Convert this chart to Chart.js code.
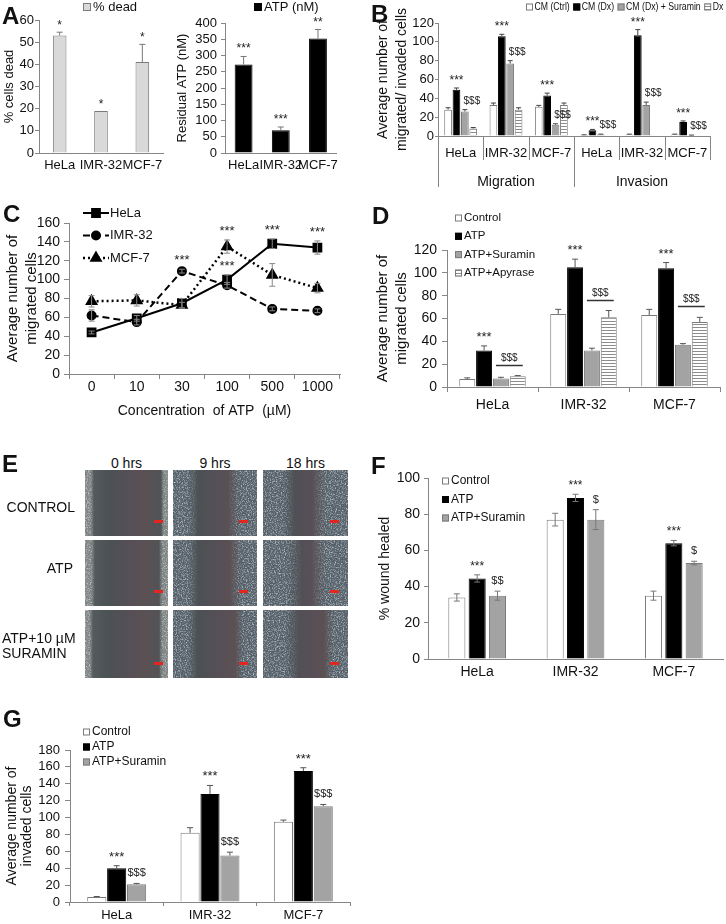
<!DOCTYPE html>
<html>
<head>
<meta charset="utf-8">
<script src="https://cdn.jsdelivr.net/npm/chart.js@4.4.0/dist/chart.umd.min.js"></script>
<style>
  html, body { margin: 0; padding: 0; background: #fff; }
  #fig { position: relative; width: 726px; height: 924px; overflow: hidden; font-family: "Liberation Sans", Arial, sans-serif; color: #111; }
  #fig canvas { position: absolute; }
  .letter { position: absolute; font-weight: bold; font-size: 24px; line-height: 1; }
  .elabel { position: absolute; font-size: 14px; line-height: 16px; white-space: nowrap; }
  .micro { position: absolute; overflow: hidden;
    background: linear-gradient(90deg, #5a5f60 0%, #4b5154 30%, #574f57 55%, #5b5154 72%, #4d5457 100%); }
  .cells { position: absolute; top: 0; bottom: 0; background-color: #56606a;
    background-image: url("data:image/svg+xml;utf8,<svg xmlns='http://www.w3.org/2000/svg' width='120' height='80'><filter id='n'><feTurbulence type='fractalNoise' baseFrequency='0.8' numOctaves='2' seed='4'/><feColorMatrix values='0 0 0 0 0.72 0 0 0 0 0.8 0 0 0 0 0.8 1.9 0 0 0 -0.85'/></filter><rect width='120' height='80' filter='url(%23n)'/></svg>"); }
  .cells.l { left: 0; -webkit-mask-image: linear-gradient(90deg, #000 60%, transparent); }
  .cells.r { right: 0; -webkit-mask-image: linear-gradient(270deg, #000 60%, transparent); }
  .cells.bright { background-color: #7f8483; }
  .arrow { position: absolute; width: 9px; height: 3px; background: #e3261f; bottom: 13px; }
</style>
</head>
<body>
<div id="fig">
  <canvas id="chartA1" width="172" height="175" style="left:0;top:0"></canvas>
  <canvas id="chartA2" width="172" height="175" style="left:172px;top:0"></canvas>
  <canvas id="chartB" width="356" height="195" style="left:370px;top:0"></canvas>
  <canvas id="chartC" width="360" height="235" style="left:0;top:185px"></canvas>
  <canvas id="chartD" width="356" height="225" style="left:370px;top:195px"></canvas>
  <canvas id="chartF" width="356" height="225" style="left:370px;top:455px"></canvas>
  <canvas id="chartG" width="360" height="234" style="left:0;top:690px"></canvas>

  <div class="letter" style="left:2px;top:4px">A</div>
  <div class="letter" style="left:371px;top:2px">B</div>
  <div class="letter" style="left:3px;top:202px">C</div>
  <div class="letter" style="left:372px;top:204px">D</div>
  <div class="letter" style="left:2px;top:452px">E</div>
  <div class="letter" style="left:371px;top:454px">F</div>
  <div class="letter" style="left:3px;top:707px">G</div>

  <div id="panelE"></div>
</div>

<script>
// ---- data ----
const cells = ['HeLa', 'IMR-32', 'MCF-7'];

// A: cell death and residual ATP
const deadPct = [53, 19, 41];
const deadErr = [1.5, 0, 8];
const deadMarks = ['*', '*', '*'];
const atpNM = [272, 70, 352];
const atpErr = [25, 10, 28];
const atpMarks = ['***', '***', '**'];

// B: migration / invasion with conditioned media
const bLabels = ['HeLa', 'IMR-32', 'MCF-7', 'HeLa', 'IMR-32', 'MCF-7'];
const bGroups = ['Migration', 'Invasion'];
const cmCtrl = [28, 33, 31, 1, 1.5, 1.5];
const cmCtrlErr = [2, 2, 1.5, 0.3, 0.5, 0.5];
const cmDx = [49, 106, 43, 6, 107, 15];
const cmDxErr = [2, 2, 2.5, 1, 6, 1];
const cmDxMarks = ['***', '***', '***', '***', '***', '***'];
const cmDxSur = [26, 77, 12, 1.5, 33, 0.7];
const cmDxSurErr = [2, 3, 1, 0.5, 3, 0.3];
const cmDxSurMarks = ['$$$', '$$$', '$$$', '$$$', '$$$', '$$$'];
const dxOnly = [8, 28, 33, 0, 0, 0];
const dxOnlyErr = [1, 2, 2, 0, 0, 0];

// C: dose response
const atpConc = ['0', '10', '30', '100', '500', '1000'];
const helaMig = [44, 59, 75, 100, 138, 134];
const helaMigErr = [1.5, 3, 5, 5, 5, 7];
const helaMigMarks = ['', '', '', '***', '***', '***'];
const imrMig = [62, 55, 109, 94, 69, 67];
const imrMigErr = [6, 3, 2, 3, 2, 2];
const imrMigMarks = ['', '', '***', '', '', ''];
const mcfMig = [77, 78, 73, 135, 105, 91];
const mcfMigErr = [6, 6, 3, 7, 12, 5];
const mcfMigMarks = ['', '', '', '***', '', ''];

// D: migration with ATP / suramin / apyrase
const dControl = [7, 64, 63];
const dControlErr = [1, 4, 5];
const dATP = [32, 105, 104];
const dATPErr = [4, 7, 5];
const dATPMarks = ['***', '***', '***'];
const dSur = [7.5, 32, 37];
const dSurErr = [1, 2, 1];
const dApy = [9.5, 61, 57];
const dApyErr = [0.5, 6, 4];
const dBracketMarks = ['$$$', '$$$', '$$$'];

// F: wound healing
const fControl = [34, 77, 35];
const fControlErr = [2, 3.5, 2.5];
const fATP = [44.5, 89, 64];
const fATPErr = [2, 2, 1.5];
const fATPMarks = ['***', '***', '***'];
const fSur = [35, 77, 53];
const fSurErr = [2.5, 5.5, 1];
const fSurMarks = ['$$', '$', '$'];

// G: invasion
const gControl = [6, 82, 95];
const gControlErr = [0.5, 6, 2];
const gATP = [40, 128, 155];
const gATPErr = [3, 10, 4];
const gATPMarks = ['***', '***', '***'];
const gSur = [21, 55, 113.5];
const gSurErr = [1, 4, 2];
const gSurMarks = ['$$$', '$$$', '$$$'];

// ---- styling ----
const FONT = '"Liberation Sans", Arial, sans-serif';
const NARROW = '"Liberation Sans Narrow", "Liberation Sans", Arial, sans-serif';
const AXIS = '#868686';
const TEXT = '#111';
const LIGHT = '#d9d9d9';
const GREY = '#a3a3a3';
const GREY_EDGE = '#7a7a7a';

Chart.defaults.font.family = FONT;
Chart.defaults.color = TEXT;
Chart.defaults.animation = false;
Chart.defaults.plugins.legend.display = false;
Chart.defaults.plugins.tooltip.enabled = false;

function stripes() {
    const c = document.createElement('canvas');
    c.width = 4; c.height = 3;
    const g = c.getContext('2d');
    g.fillStyle = '#fff';
    g.fillRect(0, 0, 4, 3);
    g.fillStyle = '#8c8c8c';
    g.fillRect(0, 0, 4, 1);
    return g.createPattern(c, 'repeat');
}
const STRIPES = stripes();

// error bars: upward only for bars, both ways when opts.both
Chart.register({
    id: 'errorBars',
    afterDatasetsDraw(chart, args, opts) {
        const ctx = chart.ctx;
        const y = chart.scales.y;
        chart.data.datasets.forEach((ds, di) => {
            if (!ds.errors) return;
            const meta = chart.getDatasetMeta(di);
            ctx.save();
            ctx.strokeStyle = opts.color || '#555';
            ctx.lineWidth = 1;
            meta.data.forEach((el, i) => {
                const err = ds.errors[i];
                if (!err) return;
                const v = ds.data[i];
                const cap = opts.cap || 3;
                const top = y.getPixelForValue(v + err);
                const bot = opts.both ? y.getPixelForValue(v - err) : y.getPixelForValue(v);
                ctx.beginPath();
                ctx.moveTo(el.x, top); ctx.lineTo(el.x, bot);
                ctx.moveTo(el.x - cap, top); ctx.lineTo(el.x + cap, top);
                if (opts.both) { ctx.moveTo(el.x - cap, bot); ctx.lineTo(el.x + cap, bot); }
                ctx.stroke();
            });
            ctx.restore();
        });
    }
});

// significance marks above error bars
Chart.register({
    id: 'marks',
    afterDatasetsDraw(chart, args, opts) {
        const ctx = chart.ctx;
        const y = chart.scales.y;
        ctx.save();
        ctx.fillStyle = '#222';
        ctx.textAlign = 'center';
        ctx.textBaseline = 'alphabetic';
        chart.data.datasets.forEach((ds, di) => {
            if (!ds.marks) return;
            const meta = chart.getDatasetMeta(di);
            meta.data.forEach((el, i) => {
                const m = ds.marks[i];
                if (!m) return;
                const top = y.getPixelForValue(ds.data[i] + (ds.errors ? ds.errors[i] : 0));
                if (m.includes('$')) {
                    ctx.font = `${opts.dollarSize || 10}px ${NARROW}`;
                    ctx.fillText(m, el.x + (opts.dollarDx || 0), top - (opts.dollarGap || 6));
                } else {
                    ctx.font = `${opts.starSize || 12}px ${FONT}`;
                    ctx.fillText(m, el.x, top - (opts.starGap || 4));
                }
            });
        });
        ctx.restore();
    }
});

// bracket line over two bars with a label (panel D)
Chart.register({
    id: 'brackets',
    afterDatasetsDraw(chart, args, opts) {
        if (opts.from === undefined) return;
        const ctx = chart.ctx;
        const y = chart.scales.y;
        const dsA = chart.data.datasets[opts.from];
        const dsB = chart.data.datasets[opts.to];
        const mA = chart.getDatasetMeta(opts.from);
        const mB = chart.getDatasetMeta(opts.to);
        ctx.save();
        ctx.strokeStyle = '#333';
        ctx.lineWidth = 1.5;
        ctx.fillStyle = '#222';
        ctx.textAlign = 'center';
        ctx.font = `${opts.size || 10}px ${NARROW}`;
        mA.data.forEach((elA, i) => {
            const elB = mB.data[i];
            const topVal = Math.max(dsA.data[i] + dsA.errors[i], dsB.data[i] + dsB.errors[i]);
            const yy = Math.round(y.getPixelForValue(topVal) - opts.gap) + 0.5;
            const x0 = elA.x - elA.width / 2 + 3;
            const x1 = elB.x + elB.width / 2 - 3;
            ctx.beginPath();
            ctx.moveTo(x0, yy); ctx.lineTo(x1, yy);
            ctx.stroke();
            ctx.fillText(opts.labels[i], (x0 + x1) / 2, yy - 5);
        });
        ctx.restore();
    }
});

// category separators hanging below the axis (panel B)
Chart.register({
    id: 'separators',
    afterDraw(chart, args, opts) {
        if (!opts.short) return;
        const ctx = chart.ctx;
        const x = chart.scales.x;
        const area = chart.chartArea;
        const n = x.ticks.length;
        ctx.save();
        ctx.strokeStyle = AXIS;
        ctx.lineWidth = 1;
        for (let i = 0; i <= n; i++) {
            let px;
            if (i === 0) px = area.left;
            else if (i === n) px = area.right;
            else px = (x.getPixelForTick(i - 1) + x.getPixelForTick(i)) / 2;
            px = Math.round(px) + 0.5;
            const len = opts.longAt.includes(i) ? opts.long : opts.short;
            ctx.beginPath();
            ctx.moveTo(px, area.bottom);
            ctx.lineTo(px, area.bottom + len);
            ctx.stroke();
        }
        ctx.restore();
    }
});

// small legends drawn from the datasets
Chart.register({
    id: 'legendBox',
    afterDraw(chart, args, opts) {
        if (opts.x === undefined) return;
        const ctx = chart.ctx;
        ctx.save();
        ctx.font = `${opts.size || 12}px ${FONT}`;
        ctx.textBaseline = 'middle';
        ctx.textAlign = 'left';
        let x = opts.x, y = opts.y;
        const b = opts.box || 8;
        const tg = opts.textGap === undefined ? 2 : opts.textGap;
        const squeeze = opts.squeeze || 1;
        chart.data.datasets.forEach(ds => {
            let textX;
            if (opts.line) {
                ctx.strokeStyle = ds.borderColor;
                ctx.lineWidth = ds.borderWidth;
                ctx.setLineDash(ds.borderDash || []);
                ctx.beginPath();
                ctx.moveTo(x, y); ctx.lineTo(x + opts.lineLen, y);
                ctx.stroke();
                ctx.setLineDash([]);
                ctx.fillStyle = ds.pointBackgroundColor;
                ctx.strokeStyle = ds.borderColor;
                Chart.helpers.drawPoint(ctx, { pointStyle: ds.pointStyle, radius: ds.pointRadius, borderWidth: 1, rotation: 0 }, x + opts.lineLen / 2, y);
                textX = x + opts.lineLen + 1;
            } else {
                ctx.fillStyle = ds.backgroundColor;
                ctx.fillRect(x, y - b / 2, b, b);
                ctx.strokeStyle = ds.borderColor;
                ctx.lineWidth = 1;
                ctx.strokeRect(x + 0.5, y - b / 2 + 0.5, b - 1, b - 1);
                textX = x + b + tg;
            }
            const w = ctx.measureText(ds.label).width * squeeze;
            ctx.fillStyle = TEXT;
            ctx.fillText(ds.label, textX, y, w);
            if (opts.dir === 'row') x = textX + w + opts.gap;
            else y += opts.step;
        });
        ctx.restore();
    }
});

// ---- axis helpers ----
function valueAxis(o) {
    return {
        min: 0,
        max: o.max,
        ticks: { stepSize: o.step, font: { size: o.font || 13 }, padding: o.tickPad, color: TEXT, autoSkip: false },
        grid: { drawOnChartArea: false, drawTicks: true, tickLength: o.tickLen, color: AXIS },
        border: { color: AXIS },
        title: {
            display: true, text: o.title, color: TEXT,
            font: { size: o.titleSize || 13, lineHeight: o.titleLH || 1.2 },
            padding: { top: o.titlePad, bottom: 0 }
        },
        afterFit: s => { s.width = o.width; }
    };
}

function categoryAxis(o) {
    return {
        offset: true,
        ticks: { font: { size: o.font || 13 }, padding: o.tickPad, color: TEXT, maxRotation: 0, autoSkip: false },
        grid: { display: !!o.tickLen, offset: true, drawOnChartArea: false, drawTicks: !!o.tickLen, tickLength: o.tickLen || 1, color: AXIS },
        border: { color: AXIS },
        title: o.title ? { display: true, text: o.title, color: TEXT, font: { size: o.titleSize || 14 }, padding: { top: 0, bottom: 0 } } : { display: false },
        afterFit: s => { s.height = o.height; }
    };
}

function bar(label, data, errors, fill, edge, marks) {
    return { label, data, errors, marks, backgroundColor: fill, borderColor: edge, borderWidth: 1 };
}

// ---- A: % dead ----
new Chart(document.getElementById('chartA1'), {
    type: 'bar',
    data: { labels: cells, datasets: [bar('% dead', deadPct, deadErr, LIGHT, GREY_EDGE, deadMarks)] },
    options: {
        responsive: false,
        layout: { padding: { left: 0, top: 20, right: 9, bottom: 0 } },
        datasets: { bar: { categoryPercentage: 0.33, barPercentage: 1 } },
        scales: {
            x: categoryAxis({ height: 22, tickPad: 5 }),
            y: valueAxis({ max: 60, step: 10, width: 39, tickLen: 4, tickPad: 1, title: '% cells dead', titlePad: 1.5 })
        },
        plugins: {
            errorBars: { cap: 3, color: '#777' },
            marks: { starSize: 12, starGap: 3 },
            legendBox: { x: 83, y: 7, dir: 'row', gap: 6, size: 13, box: 8 }
        }
    }
});

// ---- A: residual ATP ----
new Chart(document.getElementById('chartA2'), {
    type: 'bar',
    data: { labels: cells, datasets: [bar('ATP (nM)', atpNM, atpErr, '#000', '#000', atpMarks)] },
    options: {
        responsive: false,
        layout: { padding: { left: 0, top: 23, right: 7, bottom: 0 } },
        datasets: { bar: { categoryPercentage: 0.48, barPercentage: 1 } },
        scales: {
            x: categoryAxis({ height: 22, tickPad: 5 }),
            y: valueAxis({ max: 400, step: 50, width: 53, tickLen: 4, tickPad: 4, title: 'Residual ATP (nM)', titlePad: 3 })
        },
        plugins: {
            errorBars: { cap: 3, color: '#777' },
            marks: { starSize: 12, starGap: 4 },
            legendBox: { x: 82, y: 7, dir: 'row', gap: 6, size: 13, box: 8 }
        }
    }
});

// ---- B: conditioned media ----
new Chart(document.getElementById('chartB'), {
    type: 'bar',
    data: {
        labels: bLabels,
        datasets: [
            bar('CM (Ctrl)', cmCtrl, cmCtrlErr, '#fff', GREY_EDGE),
            bar('CM (Dx)', cmDx, cmDxErr, '#000', '#000', cmDxMarks),
            bar('CM (Dx) + Suramin', cmDxSur, cmDxSurErr, GREY, GREY_EDGE, cmDxSurMarks),
            bar('Dx', dxOnly, dxOnlyErr, STRIPES, GREY_EDGE)
        ]
    },
    options: {
        responsive: false,
        layout: { padding: { left: 0, top: 23, right: 16, bottom: 0 } },
        datasets: { bar: { categoryPercentage: 0.74, barPercentage: 0.92 } },
        scales: {
            x: Object.assign(categoryAxis({ height: 24, tickPad: 10 }), { weight: 0 }),
            x2: {
                type: 'category', position: 'bottom', weight: 1, labels: bGroups, offset: true,
                ticks: { font: { size: 14 }, padding: 6, color: TEXT, maxRotation: 0 },
                grid: { display: false }, border: { display: false },
                afterFit: s => { s.height = 35; }
            },
            y: valueAxis({ max: 120, step: 20, width: 68, tickLen: 3, tickPad: 1, title: ['Average number of', 'migrated/ invaded cells'], titleSize: 14, titleLH: '19px', titlePad: 3.5 })
        },
        plugins: {
            errorBars: { cap: 2.5, color: '#444' },
            marks: { starSize: 12, starGap: 4, dollarSize: 10, dollarGap: 6, dollarDx: 7 },
            separators: { short: 24, long: 51, longAt: [0, 3] },
            legendBox: { x: 156, y: 7, dir: 'row', gap: 3.5, textGap: 1.5, size: 11, box: 7, squeeze: 0.79 }
        }
    }
});

// ---- C: dose response ----
new Chart(document.getElementById('chartC'), {
    type: 'line',
    data: {
        labels: atpConc,
        datasets: [
            { label: 'HeLa', data: helaMig, errors: helaMigErr, marks: helaMigMarks, borderColor: '#000', borderWidth: 2,
              pointStyle: 'rect', pointRadius: 5.5, pointBackgroundColor: '#000', pointBorderColor: '#000' },
            { label: 'IMR-32', data: imrMig, errors: imrMigErr, marks: imrMigMarks, borderColor: '#000', borderWidth: 2, borderDash: [7, 4],
              pointStyle: 'circle', pointRadius: 4, pointBackgroundColor: '#000', pointBorderColor: '#000' },
            { label: 'MCF-7', data: mcfMig, errors: mcfMigErr, marks: mcfMigMarks, borderColor: '#000', borderWidth: 2.5, borderDash: [2, 3],
              pointStyle: 'triangle', pointRadius: 5, pointBackgroundColor: '#000', pointBorderColor: '#000' }
        ]
    },
    options: {
        responsive: false,
        layout: { padding: { left: 0, top: 38, right: 20, bottom: 0 } },
        scales: {
            x: categoryAxis({ height: 46, tickLen: 5, tickPad: 0, font: 14, title: 'Concentration  of ATP  (\u00b5M)', titleSize: 14 }),
            y: valueAxis({ max: 160, step: 20, width: 69, tickLen: 5, tickPad: 4, font: 14, title: ['Average number of', 'migrated cells'], titleSize: 15, titleLH: '19px', titlePad: 3.5 })
        },
        plugins: {
            errorBars: { both: true, cap: 3, color: '#888' },
            marks: { starSize: 13, starGap: 5 },
            legendBox: { x: 83, y: 28, dir: 'col', step: 22.5, size: 13, line: true, lineLen: 26 }
        }
    }
});

// ---- D: ATP / suramin / apyrase ----
new Chart(document.getElementById('chartD'), {
    type: 'bar',
    data: {
        labels: cells,
        datasets: [
            bar('Control', dControl, dControlErr, '#fff', GREY_EDGE),
            bar('ATP', dATP, dATPErr, '#000', '#000', dATPMarks),
            bar('ATP+Suramin', dSur, dSurErr, GREY, GREY_EDGE),
            bar('ATP+Apyrase', dApy, dApyErr, STRIPES, GREY_EDGE)
        ]
    },
    options: {
        responsive: false,
        layout: { padding: { left: 0, top: 55, right: 6, bottom: 0 } },
        datasets: { bar: { categoryPercentage: 0.74, barPercentage: 0.95 } },
        scales: {
            x: categoryAxis({ height: 33, tickLen: 5, tickPad: 5, font: 14 }),
            y: valueAxis({ max: 120, step: 20, width: 77, tickLen: 5, tickPad: 5, font: 14, title: ['Average number of', 'migrated cells'], titleSize: 15, titleLH: '19px', titlePad: 3.5 })
        },
        plugins: {
            errorBars: { cap: 3, color: '#555' },
            marks: { starSize: 13, starGap: 5 },
            brackets: { from: 2, to: 3, gap: 11, size: 10, labels: dBracketMarks },
            legendBox: { x: 85, y: 23, dir: 'col', step: 18.3, size: 11.5, box: 7 }
        }
    }
});

// ---- F: wound healing ----
new Chart(document.getElementById('chartF'), {
    type: 'bar',
    data: {
        labels: cells,
        datasets: [
            bar('Control', fControl, fControlErr, '#fff', GREY_EDGE),
            bar('ATP', fATP, fATPErr, '#000', '#000', fATPMarks),
            bar('ATP+Suramin', fSur, fSurErr, GREY, GREY_EDGE, fSurMarks)
        ]
    },
    options: {
        responsive: false,
        layout: { padding: { left: 0, top: 23, right: 3, bottom: 0 } },
        datasets: { bar: { categoryPercentage: 0.62, barPercentage: 0.84 } },
        scales: {
            x: categoryAxis({ height: 21, tickPad: 5, font: 14 }),
            y: valueAxis({ max: 100, step: 20, width: 58, tickLen: 4, tickPad: 4, font: 14, title: '% wound healed', titleSize: 14, titlePad: 6.5 })
        },
        plugins: {
            errorBars: { both: true, cap: 3, color: '#777' },
            marks: { starSize: 12, starGap: 5, dollarSize: 11, dollarGap: 7 },
            legendBox: { x: 72, y: 26, dir: 'col', step: 18.5, size: 12, box: 7 }
        }
    }
});

// ---- G: invasion ----
new Chart(document.getElementById('chartG'), {
    type: 'bar',
    data: {
        labels: cells,
        datasets: [
            bar('Control', gControl, gControlErr, '#fff', GREY_EDGE),
            bar('ATP', gATP, gATPErr, '#000', '#000', gATPMarks),
            bar('ATP+Suramin', gSur, gSurErr, GREY, GREY_EDGE, gSurMarks)
        ]
    },
    options: {
        responsive: false,
        layout: { padding: { left: 0, top: 60, right: 10, bottom: 0 } },
        datasets: { bar: { categoryPercentage: 0.64, barPercentage: 0.96 } },
        scales: {
            x: categoryAxis({ height: 22, tickLen: 4, tickPad: 2, font: 13 }),
            y: valueAxis({ max: 180, step: 20, width: 70, tickLen: 5, tickPad: 5, font: 13, title: ['Average number of', 'invaded cells'], titleSize: 14, titleLH: '15.6px', titlePad: 4 })
        },
        plugins: {
            errorBars: { cap: 3, color: '#555' },
            marks: { starSize: 13, starGap: 5, dollarSize: 11, dollarGap: 7 },
            legendBox: { x: 83, y: 42, dir: 'col', step: 15, size: 12, box: 7 }
        }
    }
});

// ---- E: scratch-assay micrographs (placeholders) ----
const panelE = document.getElementById('panelE');
const eCols = [[85, 83, '0 hrs'], [173, 84, '9 hrs'], [263, 85, '18 hrs']];
const eRows = [[470, 66], [540, 66], [610, 68]];
// cell-covered fraction on the left and right side of each frame (%)
const eCover = [
    [[11, 9], [30, 35], [38, 42]],
    [[12, 11], [30, 32], [46, 44]],
    [[10, 11], [28, 26], [42, 28]]
];

function addLabel(text, left, top, align) {
    const d = document.createElement('div');
    d.className = 'elabel';
    d.textContent = text;
    d.style.top = top + 'px';
    if (align === 'right') { d.style.right = (726 - left) + 'px'; d.style.textAlign = 'right'; }
    else if (align === 'center') { d.style.left = (left - 40) + 'px'; d.style.width = '80px'; d.style.textAlign = 'center'; }
    else d.style.left = left + 'px';
    panelE.appendChild(d);
}

eCols.forEach(([x, w, name]) => addLabel(name, x + w / 2, 455, 'center'));
addLabel('CONTROL', 75, 499, 'right');
addLabel('ATP', 73, 560, 'right');
addLabel('ATP+10 \u00b5M', 2, 630, 'left');
addLabel('SURAMIN', 2, 645, 'left');

eRows.forEach(([y, h], ri) => {
    eCols.forEach(([x, w], ci) => {
        const m = document.createElement('div');
        m.className = 'micro';
        Object.assign(m.style, { left: x + 'px', top: y + 'px', width: w + 'px', height: h + 'px' });
        const [l, r] = eCover[ri][ci];
        const cl = document.createElement('div');
        cl.className = 'cells l' + (ci === 0 ? ' bright' : '');
        cl.style.width = l + '%';
        cl.style.backgroundPosition = (-ci * 37 - ri * 11) + 'px ' + (-ri * 23) + 'px';
        const cr = document.createElement('div');
        cr.className = 'cells r' + (ci === 0 ? ' bright' : '');
        cr.style.width = r + '%';
        cr.style.backgroundPosition = (-ci * 29 - 50) + 'px ' + (-ri * 17 - 7) + 'px';
        const arrow = document.createElement('div');
        arrow.className = 'arrow';
        arrow.style.right = (ci === 0 ? 5 : 9) + 'px';
        m.append(cl, cr, arrow);
        panelE.appendChild(m);
    });
});
</script>
</body>
</html>
